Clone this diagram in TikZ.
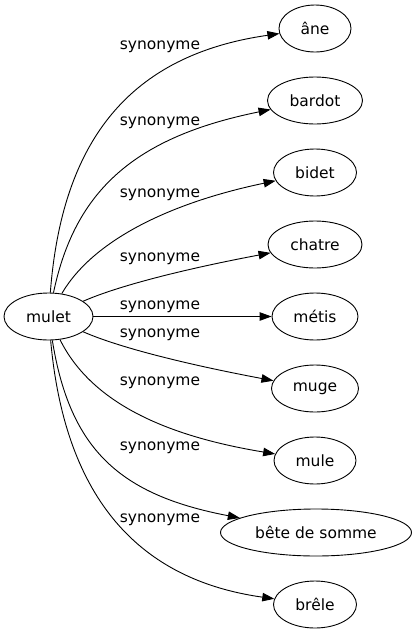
\documentclass[tikz,border=0pt]{standalone}
\usepackage{fontspec}
\setmainfont{DejaVu Sans}
\usetikzlibrary{arrows.meta,shapes.geometric}
\begin{document}
\begin{tikzpicture}[x=1pt,y=-1pt,
  nd/.style={draw,ellipse,line width=0.9pt,inner sep=0pt,minimum height=47pt},
  lbl/.style={inner sep=0pt,font=\fontsize{15.5}{18}\selectfont},
  edge/.style={line width=0.9pt,-{Triangle[length=12pt,width=8.5pt]}}]
\useasboundingbox (0,0) rectangle (416,635);
\tikzset{every node/.append style={font=\fontsize{15.5}{18}\selectfont}}
\node[nd,minimum width=89pt] (m) at (48.5,316.5) {\makebox[0pt]{mulet}};
\node[nd,minimum width=72pt] (ane) at (315,28.5) {\makebox[0pt]{âne}};
\node[nd,minimum width=95pt] (bardot) at (315,100.5) {\makebox[0pt]{bardot}};
\node[nd,minimum width=83pt] (bidet) at (315,172.5) {\makebox[0pt]{bidet}};
\node[nd,minimum width=94pt] (chatre) at (315,244.5) {\makebox[0pt]{chatre}};
\node[nd,minimum width=86pt] (metis) at (315,316.5) {\makebox[0pt]{métis}};
\node[nd,minimum width=87pt] (muge) at (315,388.5) {\makebox[0pt]{muge}};
\node[nd,minimum width=82pt] (mule) at (315,460.5) {\makebox[0pt]{mule}};
\node[nd,minimum width=191pt] (bete) at (316,532.5) {\makebox[0pt]{bête de somme}};
\node[nd,minimum width=83pt] (brele) at (315,604.5) {\makebox[0pt]{brêle}};
\node[lbl] (l1) at (160,47) {synonyme};
\node[lbl] (l2) at (160,122.5) {synonyme};
\node[lbl] (l3) at (160,195) {synonyme};
\node[lbl] (l4) at (160,259) {synonyme};
\node[lbl] (l5) at (160,307) {synonyme};
\node[lbl] (l6) at (160,335) {synonyme};
\node[lbl] (l7) at (160,383) {synonyme};
\node[lbl] (l8) at (160,448) {synonyme};
\node[lbl] (l9) at (160,520) {synonyme};
\draw[edge] (m) .. controls (62,140) and (130,55) .. (ane);
\draw[edge] (m) .. controls (75,190) and (135,137) .. (bardot);
\draw[edge] (m) .. controls (90,245) and (160,205) .. (bidet);
\draw[edge] (m) .. controls (120,285) and (190,268) .. (chatre);
\draw[edge] (m) -- (metis);
\draw[edge] (m) .. controls (120,348) and (190,365) .. (muge);
\draw[edge] (m) .. controls (90,400) and (160,435) .. (mule);
\draw[edge] (m) .. controls (70,450) and (120,495) .. (bete);
\draw[edge] (m) .. controls (65,500) and (140,580) .. (brele);
\end{tikzpicture}
\end{document}
